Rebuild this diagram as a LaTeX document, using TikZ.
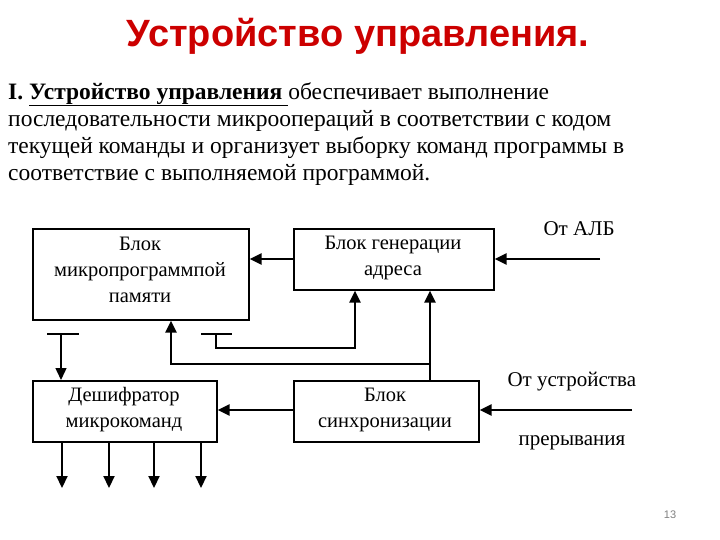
\documentclass[tikz,border=0pt]{standalone}
\usepackage{fontspec}
\setmainfont{Liberation Serif}
\newfontfamily\titlefont{Liberation Sans}
\usetikzlibrary{arrows.meta}
\begin{document}
\begin{tikzpicture}[x=1pt,y=-1pt,
  blk/.style={draw,line width=1.6pt,inner sep=0pt,anchor=north west},
  btxt/.style={font=\fontsize{20.5}{26}\selectfont,align=center},
  ln/.style={line width=2.2pt},
  ar/.style={line width=2.2pt,-{Triangle[length=12pt,width=11pt]}},
  lab/.style={font=\fontsize{21}{26}\selectfont}]
\useasboundingbox (0,0) rectangle (720,540);
\node[font=\titlefont\bfseries\fontsize{38}{44}\selectfont,text=red!80!black] (title) at (358,36) {Устройство управления.};
\node[anchor=north west,align=left,inner sep=0pt,font=\fontsize{23.5}{27}\selectfont] (para) at (8,82)
 {\textbf{I. \underline{Устройство управления }}обеспечивает выполнение\\
 последовательности микроопераций в соответствии с кодом\\
 текущей команды и организует выборку команд программы в\\
 соответствие с выполняемой программой.};
\node[blk,minimum width=216pt,minimum height=91pt] (b1) at (32,228) {};
\node[btxt] (t1) at (140,270) {Блок\\микропрограммпой\\памяти};
\node[blk,minimum width=200pt,minimum height=61pt] (b2) at (293,228) {};
\node[btxt] (t2) at (393,258) {Блок генерации\\адреса};
\node[blk,minimum width=184pt,minimum height=61pt] (b3) at (32,380) {};
\node[btxt] (t3) at (124,410) {Дешифратор\\микрокоманд};
\node[blk,minimum width=185pt,minimum height=61pt] (b4) at (293,380) {};
\node[btxt] (t4) at (385,410) {Блок\\синхронизации};
\node[lab,anchor=west] (l1) at (540,229) {От АЛБ};
\node[lab,anchor=west] (l2) at (504,382) {От устройства};
\node[lab,anchor=west] (l3) at (515,443) {прерывания};
\node[font=\titlefont\fontsize{11}{12}\selectfont,text=gray] (pg) at (670,515) {13};
\coordinate (alb) at (600,259);
\coordinate (prer) at (632,410);
\draw[ar] (b2.west|-alb) -- (b1.east|-alb);
\draw[ar] (alb) -- (b2.east|-alb);
\draw[ar] (b4.west|-prer) -- (b3.east|-prer);
\draw[ar] (prer) -- (b4.east|-prer);
\coordinate (tb1a) at (47,334); \coordinate (tb1b) at (79,334);
\coordinate (tb2a) at (201,334); \coordinate (tb2b) at (232,334);
\draw[ln] (tb1a) -- (tb1b);
\draw[ln] (tb2a) -- (tb2b);
\draw[ar,line width=1.4pt] (61,334) -- (b3.north west -| 61,0);
\draw[ar] (216,334) -- (216,348) -- (355,348) -- (b2.south -| 355,0);
\draw[ar] (b4.north -| 430,0) -- (b2.south -| 430,0);
\draw[ar] (430,364) -- (171,364) -- (b1.south -| 171,0);
\foreach \x in {62,109,154,201}
  \draw[ar] (b3.south -| \x,0) -- (\x,488);
\end{tikzpicture}
\end{document}
